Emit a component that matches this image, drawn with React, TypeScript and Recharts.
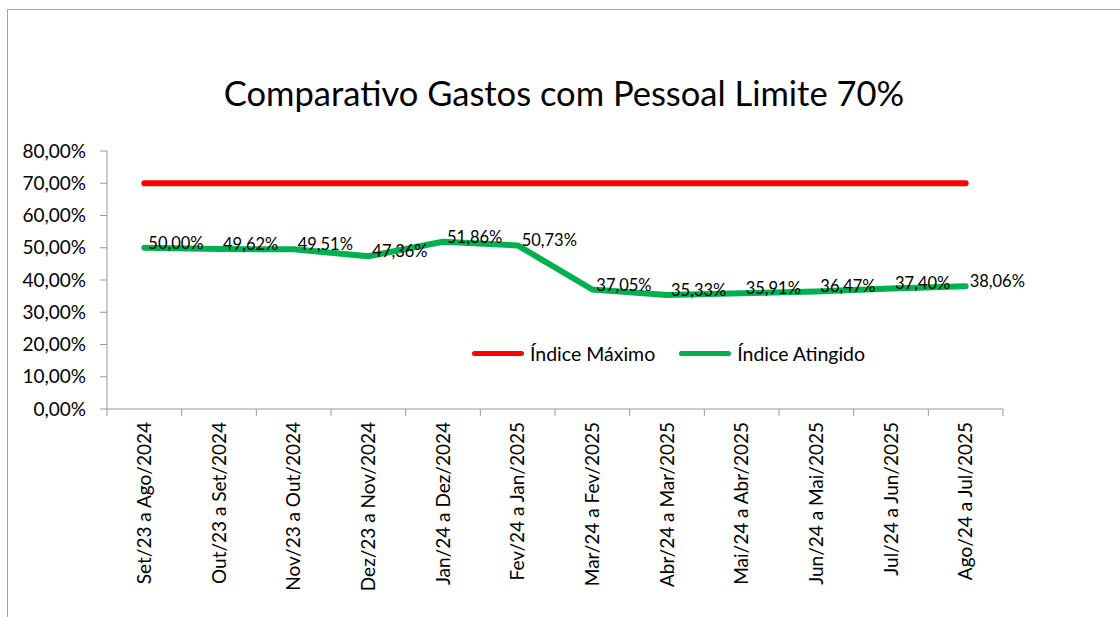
import { LineChart, Line, XAxis, YAxis, Legend, LabelList } from "recharts";

const periods = [
  "Set/23 a Ago/2024",
  "Out/23 a Set/2024",
  "Nov/23 a Out/2024",
  "Dez/23 a Nov/2024",
  "Jan/24 a Dez/2024",
  "Fev/24 a Jan/2025",
  "Mar/24 a Fev/2025",
  "Abr/24 a Mar/2025",
  "Mai/24 a Abr/2025",
  "Jun/24 a Mai/2025",
  "Jul/24 a Jun/2025",
  "Ago/24 a Jul/2025",
];

const indiceMaximo = [70, 70, 70, 70, 70, 70, 70, 70, 70, 70, 70, 70];
const indiceAtingido = [50.0, 49.62, 49.51, 47.36, 51.86, 50.73, 37.05, 35.33, 35.91, 36.47, 37.4, 38.06];
const yTicks = [0, 10, 20, 30, 40, 50, 60, 70, 80];

const data = periods.map((p, i) => ({
  periodo: p,
  maximo: indiceMaximo[i],
  atingido: indiceAtingido[i],
}));

const FONT = "Lato, 'Open Sans', sans-serif";
const AXIS = "#999999";

const fmt = (v: number) => v.toFixed(2).replace(".", ",") + "%";

// Excel puts category ticks between the bands, so draw them ourselves
function XTick(props: any) {
  const { x, y, payload, index, visibleTicksCount } = props;
  const half = payload.offset || 37.33;
  return (
    <g>
      <line x1={x - half} y1={y} x2={x - half} y2={y + 7} stroke={AXIS} />
      {index === visibleTicksCount - 1 && <line x1={x + half} y1={y} x2={x + half} y2={y + 7} stroke={AXIS} />}
      <text
        transform={`translate(${x}, ${y + 13}) rotate(-90)`}
        textAnchor="end"
        dy="0.35em"
        fontSize={19}
        fontFamily={FONT}
        fill="#000"
      >
        {payload.value}
      </text>
    </g>
  );
}

function PointLabel(props: any) {
  const { x, y, value } = props;
  return (
    <text x={x + 4} y={y - 5} fontSize={16.5} fontFamily={FONT} fill="#000" dominantBaseline="central">
      {fmt(value)}
    </text>
  );
}

function LegendBox() {
  const items = [
    { name: "Índice Máximo", color: "#FF0000", gap: 24 },
    { name: "Índice Atingido", color: "#00B050", gap: 0 },
  ];
  return (
    <div style={{ display: "flex", alignItems: "center", fontFamily: FONT, fontSize: 19.5 }}>
      {items.map((it) => (
        <div key={it.name} style={{ display: "flex", alignItems: "center", marginRight: it.gap }}>
          <div style={{ width: 52, height: 5, borderRadius: 3, background: it.color, marginRight: 6 }} />
          <span>{it.name}</span>
        </div>
      ))}
    </div>
  );
}

export default function App() {
  return (
    <div style={{ position: "absolute", left: 0, top: 0, width: 1120, height: 617, background: "#fff", overflow: "hidden" }}>
      {/* chart frame */}
      <div
        style={{
          position: "absolute",
          left: 7,
          top: 9,
          width: 1200,
          height: 700,
          borderTop: "1px solid #a6a6a6",
          borderLeft: "1px solid #a6a6a6",
        }}
      />
      <div
        style={{
          position: "absolute",
          left: 0,
          top: 72,
          width: 1128,
          textAlign: "center",
          fontFamily: FONT,
          fontSize: 34.5,
          color: "#000",
        }}
      >
        Comparativo Gastos com Pessoal Limite 70%
      </div>
      <div style={{ position: "absolute", left: 0, top: 0 }}>
        <LineChart width={1120} height={617} data={data} margin={{ top: 151, right: 117, bottom: 8, left: 0 }}>
          <XAxis
            dataKey="periodo"
            scale="band"
            stroke={AXIS}
            tickLine={false}
            tickSize={0}
            tickMargin={0}
            interval={0}
            height={200}
            tick={<XTick />}
          />
          <YAxis
            width={107}
            domain={[0, 80]}
            ticks={yTicks}
            tickFormatter={fmt}
            stroke={AXIS}
            tickSize={7}
            tickMargin={14}
            tick={{ fill: "#000", fontSize: 19, fontFamily: FONT }}
          />
          <Legend
            layout="horizontal"
            verticalAlign="middle"
            align="center"
            content={<LegendBox />}
            wrapperStyle={{ left: 472, top: 342, width: "auto" }}
          />
          <Line
            type="linear"
            dataKey="maximo"
            name="Índice Máximo"
            stroke="#FF0000"
            strokeWidth={6}
            strokeLinecap="round"
            dot={false}
            isAnimationActive={false}
          />
          <Line
            type="linear"
            dataKey="atingido"
            name="Índice Atingido"
            stroke="#00B050"
            strokeWidth={6}
            strokeLinecap="round"
            strokeLinejoin="round"
            dot={false}
            isAnimationActive={false}
          >
            <LabelList dataKey="atingido" content={<PointLabel />} />
          </Line>
        </LineChart>
      </div>
    </div>
  );
}
